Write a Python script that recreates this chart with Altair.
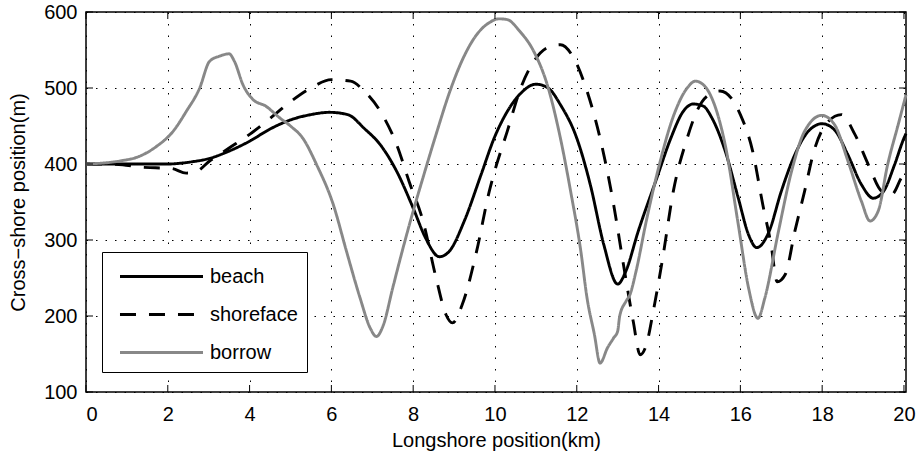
import altair as alt
import pandas as pd

names = ["beach", "shoreface", "borrow"]

beach_x = [0, 0.5, 1.0, 1.5, 2.0, 2.3, 2.6, 3.0, 3.5, 4.0, 4.5, 5.0, 5.5, 5.95, 6.4, 6.8, 7.2, 7.6,
           8.0, 8.3, 8.64, 8.88, 9.25, 9.66, 9.98, 10.3, 10.63, 11.0, 11.3, 11.6, 12.0, 12.33, 12.66,
           13.0, 13.2, 13.5, 13.96, 14.3, 14.6, 14.85, 15.1, 15.3, 15.63, 15.95, 16.2, 16.4, 16.7,
           17.0, 17.33, 17.66, 18.0, 18.3, 18.63, 18.96, 19.25, 19.5, 19.77, 20.0, 20.05]
beach_y = [400, 400, 400, 400, 400, 401, 403, 407, 417, 430, 446, 458, 465, 468, 465, 447, 425, 390,
           342, 303, 278, 285, 325, 386, 434, 469, 493, 505, 500, 478, 434, 373, 294,
           242, 259, 311, 382, 434, 469, 479, 476, 461, 417, 355, 307, 290, 311,
           364, 412, 443, 453, 445, 412, 373, 355, 364, 399, 434, 440]

shore_x = [0, 0.5, 0.9, 1.3, 1.7, 2.1, 2.45, 2.7, 3.0, 3.5, 4.0, 4.5, 5.0, 5.5, 6.0, 6.47, 6.8, 7.2,
           7.6, 7.9, 8.24, 8.56, 8.8, 8.96, 9.2, 9.55, 9.86, 10.0, 10.3, 10.63, 10.95, 11.28, 11.6,
           11.93, 12.25, 12.57, 12.9, 13.14, 13.38, 13.55, 13.7, 13.87, 14.1, 14.36, 14.7, 14.94,
           15.2, 15.5, 15.8, 16.0, 16.3, 16.55, 16.75, 16.9, 17.1, 17.33, 17.57, 17.8, 18.15, 18.47,
           18.8, 19.13, 19.46, 19.7, 19.94, 20.05]
shore_y = [400, 400, 399, 396, 395, 394, 388, 390, 403, 421, 439, 460, 482, 500, 511, 509, 496, 469,
           425, 377, 325, 250, 202, 191, 215, 285, 364, 392, 443, 500, 535, 553, 557,
           539, 496, 434, 347, 268, 193, 149, 162, 206, 276, 364, 434, 470,
           490, 496, 485, 465, 417, 346, 294, 245, 255, 311, 364, 417, 456, 465,
           439, 399, 364, 360, 382, 390]

borrow_x = [0, 0.83, 1.3, 1.72, 2.13, 2.45, 2.78, 3.02, 3.27, 3.5, 3.63, 3.84, 4.08, 4.4, 4.73, 5.0,
            5.3, 5.64, 6.05, 6.37, 6.7, 6.95, 7.1, 7.27, 7.5, 7.75, 8.0, 8.24, 8.56, 8.9, 9.22, 9.55,
            9.86, 10.1, 10.3, 10.6, 10.95, 11.28, 11.6, 11.85, 12.1, 12.25, 12.43, 12.57, 12.75, 12.9,
            13.0, 13.05, 13.2, 13.3, 13.45, 13.7, 14.0, 14.35, 14.7, 14.9, 15.1, 15.3, 15.63, 15.95,
            16.2, 16.43, 16.6, 16.93, 17.25, 17.57, 17.99, 18.3, 18.63, 18.96, 19.17, 19.37, 19.6,
            19.86, 20.05]
borrow_y = [400, 404, 410, 423, 443, 469, 500, 535, 542, 545, 535, 504, 485, 476, 461, 450,
            434, 399, 346, 285, 224, 184, 173, 188, 237, 289, 338, 382, 439, 496, 539, 570,
            586, 591, 590, 575, 548, 504, 434, 364, 285, 224, 176, 138, 158, 171,
            180, 200, 219, 228, 259, 325, 395, 461, 500, 509, 504, 487, 425, 320,
            237, 197, 224, 311, 390, 443, 464, 452, 404, 351, 325, 338, 399,
            452, 491]

xticks = [0, 2, 4, 6, 8, 10, 12, 14, 16, 18, 20]
yticks = [100, 200, 300, 400, 500, 600]

rows = []
for name, xs, ys in [("beach", beach_x, beach_y), ("shoreface", shore_x, shore_y), ("borrow", borrow_x, borrow_y)]:
    for i, (a, b) in enumerate(zip(xs, ys)):
        rows.append({"series": name, "km": a, "m": b, "idx": i})
df = pd.DataFrame(rows)

W, H = 820, 380
FONT = "Liberation Sans"
FS = 20

xscale = alt.Scale(domain=[0, 20.05], nice=False, zero=False)
yscale = alt.Scale(domain=[100, 600], nice=False, zero=False)

xaxis = alt.Axis(title="Longshore position(km)", values=xticks, grid=True,
                 gridDash=[1.5, 10], labelPadding=12, titlePadding=6)
yaxis = alt.Axis(title="Cross\u2212shore position(m)", values=yticks, grid=True,
                 gridDash=[1.5, 8], labelPadding=9, titlePadding=15)

leg = alt.Legend(orient="none", legendX=16, legendY=240, title=None)

lines = alt.Chart(df).mark_line(strokeWidth=2.9, interpolate="monotone").encode(
    x=alt.X("km:Q", scale=xscale, axis=xaxis),
    y=alt.Y("m:Q", scale=yscale, axis=yaxis),
    color=alt.Color("series:N", scale=alt.Scale(domain=names, range=["#000000", "#000000", "#888888"]),
                    legend=leg),
    strokeDash=alt.StrokeDash("series:N", scale=alt.Scale(domain=names, range=[[1, 0], [16, 13], [1, 0]]),
                              legend=leg),
    order=alt.Order("idx:Q"),
)

xt = pd.DataFrame({"km": xticks})
yt = pd.DataFrame({"m": yticks})
tick_style = dict(color="black", strokeWidth=1)

xb = alt.Chart(xt).mark_rule(**tick_style).encode(
    x=alt.X("km:Q", scale=xscale, axis=xaxis), y=alt.value(H), y2=alt.value(H - 7))
xtop = alt.Chart(xt).mark_rule(**tick_style).encode(
    x=alt.X("km:Q", scale=xscale, axis=xaxis), y=alt.value(0), y2=alt.value(7))
yl = alt.Chart(yt).mark_rule(**tick_style).encode(
    y=alt.Y("m:Q", scale=yscale, axis=yaxis), x=alt.value(0), x2=alt.value(7))
yr = alt.Chart(yt).mark_rule(**tick_style).encode(
    y=alt.Y("m:Q", scale=yscale, axis=yaxis), x=alt.value(W - 7), x2=alt.value(W))

chart = alt.layer(lines, xb, xtop, yl, yr).properties(
    width=W, height=H,
    autosize=alt.AutoSizeParams(type="none"),
    padding={"left": 86, "top": 12, "right": 14, "bottom": 63},
    background="white",
).configure_view(
    stroke="black", strokeWidth=1.5
).configure_axis(
    domain=False, ticks=False,
    labelFont=FONT, labelFontSize=FS, labelColor="black",
    titleFont=FONT, titleFontSize=FS, titleFontWeight="normal", titleColor="black",
    gridColor="black", gridOpacity=1, gridWidth=1,
).configure_legend(
    symbolType="M-3,0H3", symbolSize=766, symbolStrokeWidth=3, symbolOffset=35,
    labelFont=FONT, labelFontSize=FS, labelColor="black", labelOffset=33,
    padding=9, rowPadding=12, strokeColor="black", fillColor="white",
)

chart.save("out.html", embed_options={"renderer": "svg", "actions": False})
